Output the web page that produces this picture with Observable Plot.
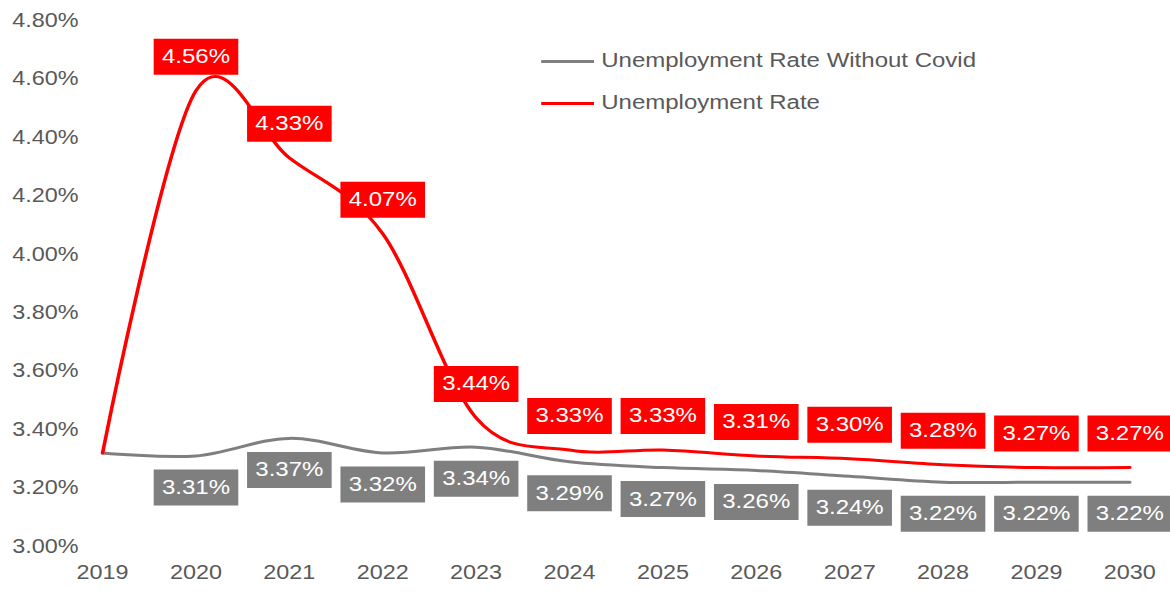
<!DOCTYPE html>
<html><head><meta charset="utf-8">
<script src="https://cdn.jsdelivr.net/npm/d3@7"></script>
<script src="https://cdn.jsdelivr.net/npm/@observablehq/plot@0.6"></script>
<style>
html,body{margin:0;padding:0;background:#fff;}
#wrap{position:relative;width:975px;height:593px;transform:scaleX(1.2);transform-origin:0 0;font-family:"Liberation Sans",Arial,sans-serif;}
.leg{position:absolute;left:451px;width:44px;height:3px;}
.legt{position:absolute;left:501px;font-size:20px;color:#595959;line-height:24px;white-space:nowrap;}
</style></head><body>
<div id="wrap"></div>
<script>
const years = [2019,2020,2021,2022,2023,2024,2025,2026,2027,2028,2029,2030];
const rate = [3.32,4.56,4.33,4.07,3.44,3.33,3.33,3.31,3.30,3.28,3.27,3.27];
const rateNoCovid = [3.32,3.31,3.37,3.32,3.34,3.29,3.27,3.26,3.24,3.22,3.22,3.22];
const yTicks = [3.0,3.2,3.4,3.6,3.8,4.0,4.2,4.4,4.6,4.8];
const seriesNames = ["Unemployment Rate Without Covid","Unemployment Rate"];
const colors = ["#7f7f7f","#ff0000"];

const data = years.map((y,i)=>({year:y, rate:rate[i], base:rateNoCovid[i]}));
const labeled = data.filter(d => d.year > years[0]);
const box = {draw(ctx){ ctx.rect(-35.25,-18,70.5,36); }};
const fmt = v => v.toFixed(2) + "%";

const plot = Plot.plot({
  width:975, height:593, marginLeft:85, marginRight:34, marginTop:20, marginBottom:47,
  style:{fontFamily:'"Liberation Sans", Arial, sans-serif', fontSize:"19.5px", color:"#595959", background:"#fff", overflow:"visible"},
  x:{domain:[2019,2030], ticks:years, tickFormat:d=>String(d), tickSize:0, tickPadding:19, label:null},
  y:{domain:[3.0,4.8], ticks:yTicks, tickFormat:fmt, tickSize:0, tickPadding:20, label:null},
  marks:[
    Plot.line(data,{x:"year",y:"base",stroke:colors[0],strokeWidth:3,curve:"cardinal"}),
    Plot.line(data,{x:"year",y:"rate",stroke:colors[1],strokeWidth:3,curve:"cardinal"}),
    Plot.dot(labeled,{x:"year",y:"base",dy:31.5,symbol:box,fill:colors[0]}),
    Plot.text(labeled,{x:"year",y:"base",dy:31.5,text:d=>fmt(d.base),fill:"white",fontSize:20}),
    Plot.dot(labeled,{x:"year",y:"rate",dy:-34,symbol:box,fill:colors[1]}),
    Plot.text(labeled,{x:"year",y:"rate",dy:-34,text:d=>fmt(d.rate),fill:"white",fontSize:20})
  ]
});
const wrap = document.getElementById("wrap");
wrap.appendChild(plot);
const legTops = [60.2, 101.8];
const textTops = [47.9, 89.5];
seriesNames.forEach((name,i)=>{
  const l = document.createElement("div");
  l.className = "leg"; l.style.top = legTops[i]+"px"; l.style.background = colors[i];
  wrap.appendChild(l);
  const t = document.createElement("div");
  t.className = "legt"; t.style.top = textTops[i]+"px"; t.textContent = name;
  wrap.appendChild(t);
});
</script>
</body></html>
